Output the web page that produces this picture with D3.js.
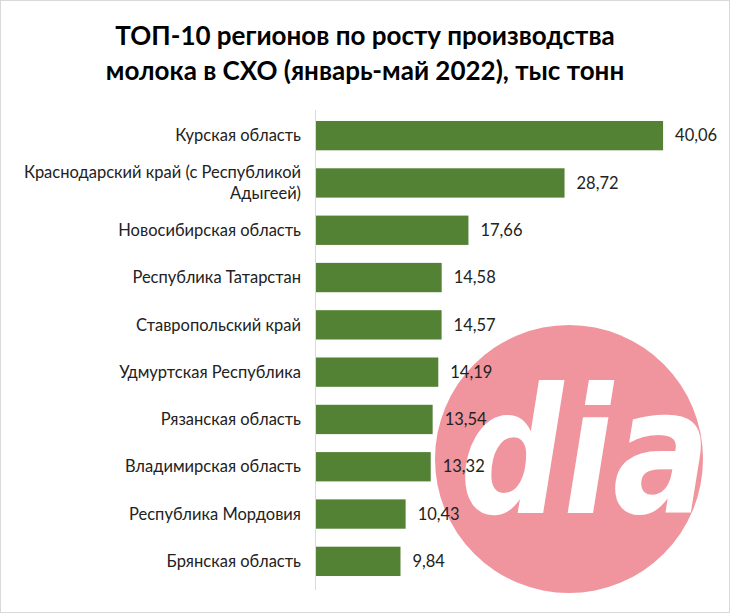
<!DOCTYPE html>
<html><head><meta charset="utf-8">
<script src="https://cdn.jsdelivr.net/npm/d3@7"></script>
<style>body{margin:0;background:#fff}svg{display:block}</style>
</head><body>
<svg id="c" width="730" height="613"></svg>
<script>
const categories = ["Курская область","Краснодарский край (с Республикой Адыгеей)","Новосибирская область","Республика Татарстан","Ставропольский край","Удмуртская Республика","Рязанская область","Владимирская область","Республика Мордовия","Брянская область"];
const categoryLines = [["Курская область"],["Краснодарский край (с Республикой","Адыгеей)"],["Новосибирская область"],["Республика Татарстан"],["Ставропольский край"],["Удмуртская Республика"],["Рязанская область"],["Владимирская область"],["Республика Мордовия"],["Брянская область"]];
const values = [40.06,28.72,17.66,14.58,14.57,14.19,13.54,13.32,10.43,9.84];
const titleLines = ["ТОП-10 регионов по росту производства","молока в СХО (январь-май 2022), тыс тонн"];

const svg = d3.select("#c");
const font = "Lato, 'Open Sans', sans-serif";
svg.append("rect").attr("x",0.5).attr("y",0.5).attr("width",729).attr("height",612)
  .attr("fill","#fff").attr("stroke","#d9d9d9");

svg.append("g").selectAll("text").data(titleLines).join("text")
  .attr("x",365).attr("y",(d,i)=>44.5+i*35.7).attr("text-anchor","middle")
  .attr("font-family",font).attr("font-weight","bold").attr("font-size",26).attr("fill","#000")
  .text(d=>d);

const x = d3.scaleLinear().domain([0,45]).range([315,706]);
const y = d3.scaleBand().domain(categories).range([112,585]).paddingInner(0.38).paddingOuter(0.19);

svg.append("g").selectAll("rect").data(values).join("rect")
  .attr("x",x(0)).attr("y",(d,i)=>y(categories[i])).attr("width",d=>x(d)-x(0)).attr("height",y.bandwidth())
  .attr("fill","#548235");

svg.append("line").attr("x1",x(0)+0.5).attr("x2",x(0)+0.5).attr("y1",110).attr("y2",590).attr("stroke","#d9d9d9");

const lab = svg.append("g").selectAll("text").data(categoryLines).join("text")
  .attr("text-anchor","end").attr("font-family",font).attr("font-size",16.5).attr("fill","#222");
lab.each(function(lines,i){
  const cy = y(categories[i]) + y.bandwidth()/2;
  const t = d3.select(this);
  lines.forEach((l,j)=>{
    t.append("tspan").attr("x",301).attr("y", cy + 5.7 + (j-(lines.length-1)/2)*21).text(l);
  });
});

// watermark
const wm = svg.append("g");
wm.append("circle").attr("cx",569).attr("cy",459).attr("r",134).attr("fill","#f0959e");
wm.append("text").attr("x",460).attr("y",513).attr("font-family","'DejaVu Sans', sans-serif")
  .attr("font-weight","bold").attr("font-style","italic").attr("font-size",175)
  .attr("textLength",250).attr("lengthAdjust","spacingAndGlyphs").attr("fill","#fff").text("dia");

svg.append("g").selectAll("text").data(values).join("text")
  .attr("x",d=>x(d)+12).attr("y",(d,i)=>y(categories[i])+y.bandwidth()/2+5.7)
  .attr("font-family",font).attr("font-size",16.5).attr("fill","#222")
  .text(d=>d.toFixed(2).replace(".",","));
</script>
</body></html>
